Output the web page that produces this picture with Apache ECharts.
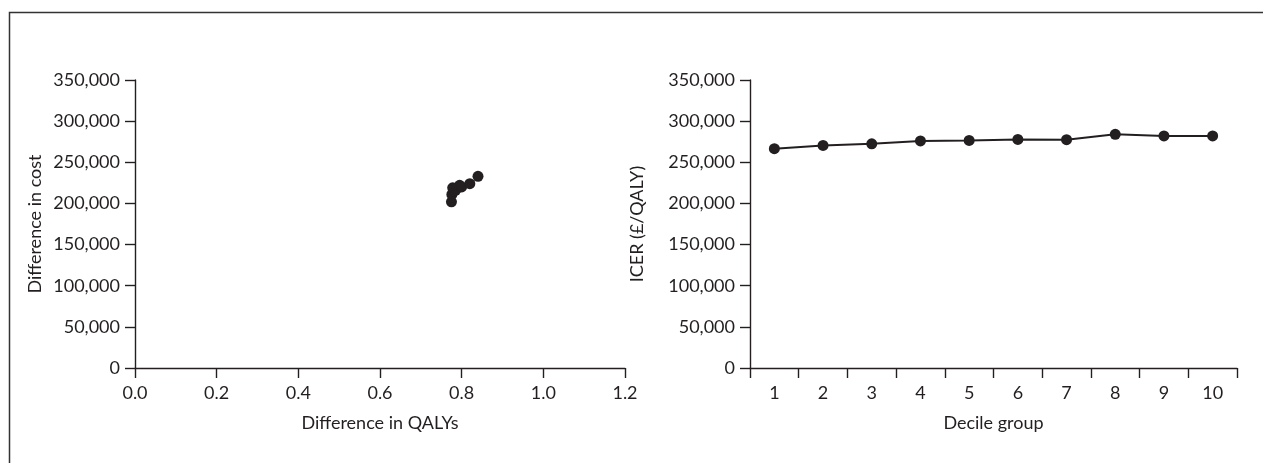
<!DOCTYPE html>
<html>
<head>
<meta charset="utf-8">
<script src="https://cdn.jsdelivr.net/npm/echarts@6/dist/echarts.min.js"></script>
<style>
html,body{margin:0;padding:0;background:#fff;}
#c{width:1263px;height:463px;}
</style>
</head>
<body>
<div id="c"></div>
<script>
// Left panel: scatter of differences by decile
const qalyDiff = [0.775, 0.776, 0.780, 0.778, 0.785, 0.790, 0.795, 0.800, 0.820, 0.840];
const costDiff = [202000, 211000, 215000, 219000, 216000, 219000, 222000, 220000, 224000, 233000];
// Right panel: ICER by decile group
const deciles = ['1','2','3','4','5','6','7','8','9','10'];
const icer = [266500, 270500, 272500, 276000, 276500, 277800, 277500, 284000, 282000, 282000];

const FONT = 'Lato, "Open Sans", sans-serif';
const INK = '#231f20';
const FS = 18;
const fmt = v => v.toLocaleString('en-US');

const chart = echarts.init(document.getElementById('c'), null, {renderer: 'canvas'});
const yAxisBase = {
  type: 'value', min: 0, max: 350000, interval: 50000,
  axisLine: {show: true, lineStyle: {color: INK, width: 1.4}},
  axisTick: {show: true, length: 10, lineStyle: {color: INK, width: 1.4}},
  axisLabel: {color: INK, fontSize: FS, fontFamily: FONT, formatter: fmt, margin: 15},
  splitLine: {show: false},
  nameLocation: 'middle',
  nameTextStyle: {color: INK, fontSize: FS, fontFamily: FONT}
};
const xAxisCommon = {
  nameLocation: 'middle', nameGap: 46,
  nameTextStyle: {color: INK, fontSize: FS, fontFamily: FONT},
  axisLine: {show: true, onZero: false, lineStyle: {color: INK, width: 1.4}},
  axisTick: {show: true, length: 10, lineStyle: {color: INK, width: 1.4}},
  splitLine: {show: false}
};
chart.setOption({
  animation: false,
  backgroundColor: '#fff',
  graphic: [{
    type: 'rect', left: 7, top: 10, silent: true,
    shape: {width: 1255, height: 470},
    style: {fill: 'none', stroke: '#333', lineWidth: 1.5}
  }],
  grid: [
    {left: 135, right: 638, top: 80, bottom: 95},
    {left: 750, right: 26, top: 80, bottom: 95}
  ],
  xAxis: [Object.assign({}, xAxisCommon, {
    gridIndex: 0, type: 'value', min: 0, max: 1.2, interval: 0.2,
    name: 'Difference in QALYs',
    axisLabel: {color: INK, fontSize: FS, fontFamily: FONT, margin: 16, formatter: v => v.toFixed(1)}
  }), Object.assign({}, xAxisCommon, {
    gridIndex: 1, type: 'category', data: deciles, boundaryGap: true,
    name: 'Decile group',
    axisLabel: {color: INK, fontSize: FS, fontFamily: FONT, margin: 16}
  })],
  yAxis: [
    Object.assign({}, yAxisBase, {gridIndex: 0, name: 'Difference in cost', nameGap: 91}),
    Object.assign({}, yAxisBase, {gridIndex: 1, name: 'ICER (£/QALY)', nameGap: 104})
  ],
  series: [{
    type: 'scatter', xAxisIndex: 0, yAxisIndex: 0,
    data: qalyDiff.map((q, i) => [q, costDiff[i]]),
    symbol: 'circle', symbolSize: 11,
    itemStyle: {color: INK, opacity: 1}
  }, {
    type: 'line', xAxisIndex: 1, yAxisIndex: 1,
    data: icer,
    symbol: 'circle', symbolSize: 11, showSymbol: true,
    lineStyle: {color: INK, width: 2},
    itemStyle: {color: INK}
  }]
});
</script>
</body>
</html>
